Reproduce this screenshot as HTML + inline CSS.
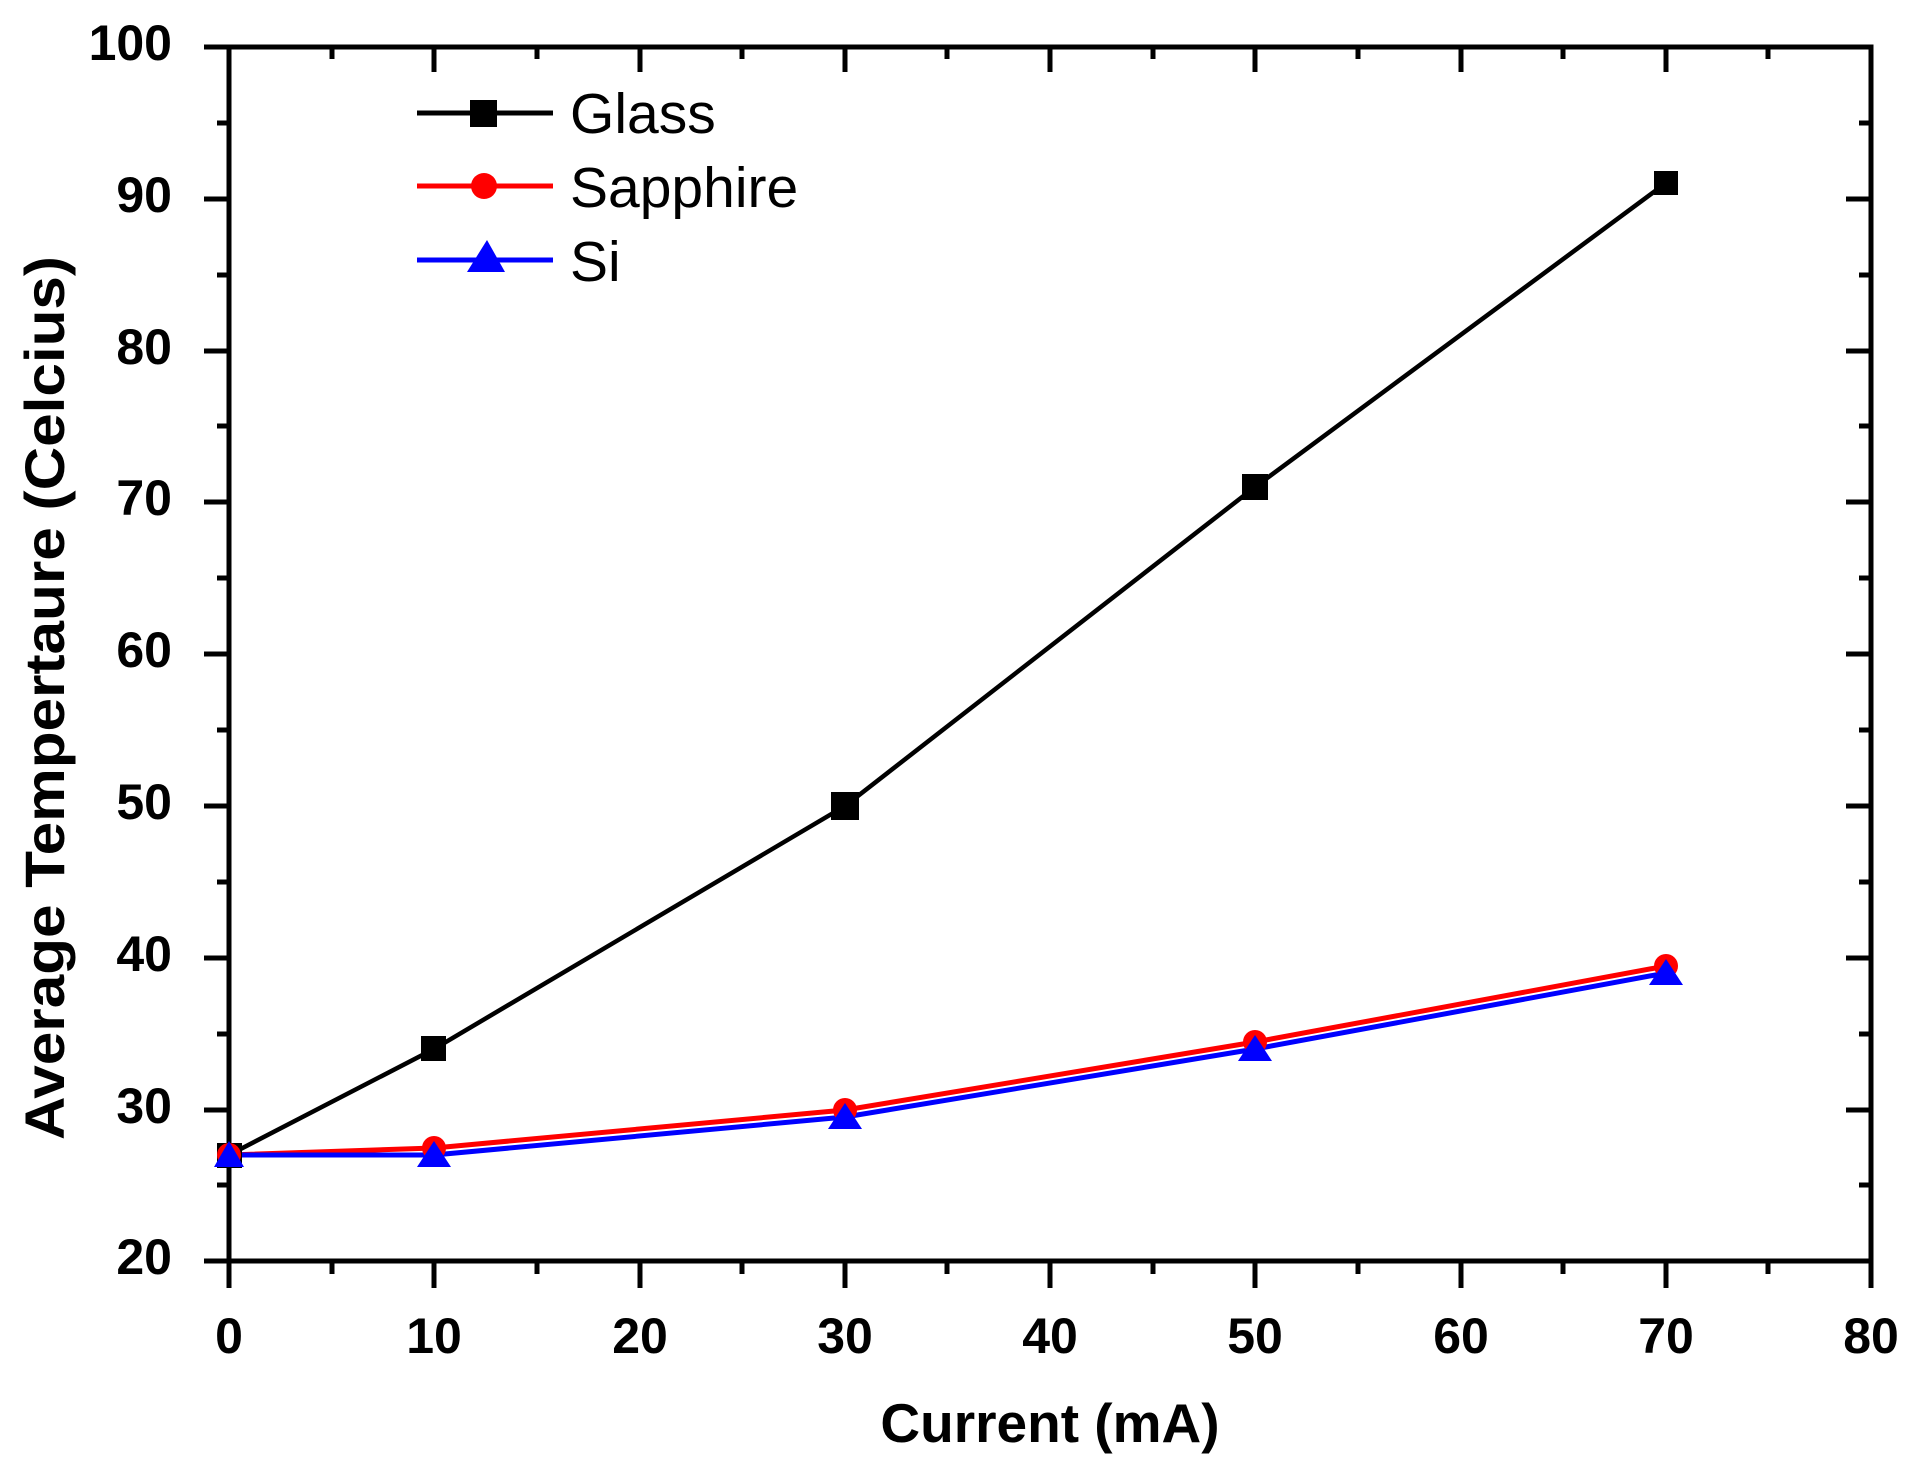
<!DOCTYPE html>
<html><head><meta charset="utf-8"><style>html,body{margin:0;padding:0;background:#fff}svg{display:block}</style></head><body>
<svg width="1905" height="1471" viewBox="0 0 1905 1471" xmlns="http://www.w3.org/2000/svg">
<g font-family="Liberation Sans, Arial, sans-serif" font-weight="bold" font-size="50" fill="#000">
<text x="229" y="1353" text-anchor="middle">0</text>
<text x="434" y="1353" text-anchor="middle">10</text>
<text x="640" y="1353" text-anchor="middle">20</text>
<text x="845" y="1353" text-anchor="middle">30</text>
<text x="1050" y="1353" text-anchor="middle">40</text>
<text x="1255" y="1353" text-anchor="middle">50</text>
<text x="1461" y="1353" text-anchor="middle">60</text>
<text x="1666" y="1353" text-anchor="middle">70</text>
<text x="1871" y="1353" text-anchor="middle">80</text>
<text x="172" y="60" text-anchor="end">100</text>
<text x="172" y="212" text-anchor="end">90</text>
<text x="172" y="364" text-anchor="end">80</text>
<text x="172" y="515" text-anchor="end">70</text>
<text x="172" y="667" text-anchor="end">60</text>
<text x="172" y="819" text-anchor="end">50</text>
<text x="172" y="971" text-anchor="end">40</text>
<text x="172" y="1123" text-anchor="end">30</text>
<text x="172" y="1274" text-anchor="end">20</text>
<text x="1050" y="1442" text-anchor="middle" font-size="55">Current (mA)</text>
<text transform="translate(64,698) rotate(-90)" text-anchor="middle" font-size="56" textLength="884" lengthAdjust="spacingAndGlyphs">Average Tempertaure (Celcius)</text>
</g>
<g stroke="#000" stroke-width="5" fill="none">
<rect x="229" y="47" width="1642" height="1214"/>
<path d="M229,1261v27M434,1261v27M640,1261v27M845,1261v27M1050,1261v27M1255,1261v27M1461,1261v27M1666,1261v27M1871,1261v27
M332,1261v13M537,1261v13M742,1261v13M947,1261v13M1153,1261v13M1358,1261v13M1563,1261v13M1768,1261v13
M434,47v25M640,47v25M845,47v25M1050,47v25M1255,47v25M1461,47v25M1666,47v25
M332,47v12M537,47v12M742,47v12M947,47v12M1153,47v12M1358,47v12M1563,47v12M1768,47v12"/>
<path d="M204,47h25M204,199h25M204,351h25M204,502h25M204,654h25M204,806h25M204,958h25M204,1110h25M204,1261h25
M217,123h12M217,275h12M217,426h12M217,578h12M217,730h12M217,882h12M217,1034h12M217,1185h12"/>
<path d="M1846,199h25M1846,351h25M1846,502h25M1846,654h25M1846,806h25M1846,958h25M1846,1110h25
M1859,123h12M1859,275h12M1859,426h12M1859,578h12M1859,730h12M1859,882h12M1859,1034h12M1859,1185h12"/>
</g>
<polyline points="229,1155 434,1049 845,806 1255,487 1666,183" fill="none" stroke="#000" stroke-width="4.5"/>
<polyline points="229,1155 434,1148 845,1110 1255,1042 1666,966" fill="none" stroke="#f00" stroke-width="5"/>
<polyline points="229,1155 434,1155 845,1117 1255,1049 1666,973" fill="none" stroke="#00f" stroke-width="5"/>
<g fill="#000">
<rect x="217" y="1143" width="25" height="25"/><rect x="421" y="1036" width="25" height="25"/><rect x="831" y="792" width="28" height="28"/><rect x="1242" y="474" width="26" height="26"/><rect x="1654" y="171" width="24" height="24"/>
</g>
<g fill="#f00">
<circle cx="229" cy="1155" r="12"/><circle cx="434" cy="1148" r="12"/><circle cx="845" cy="1110" r="12"/><circle cx="1255" cy="1042" r="12"/><circle cx="1666" cy="966" r="12"/>
</g>
<g fill="#00f">
<polygon points="229,1141 244,1167 214,1167"/><polygon points="434,1141 451,1167 417,1167"/><polygon points="845,1103 862,1129 828,1129"/><polygon points="1255,1035 1272,1061 1238,1061"/><polygon points="1666,959 1683,985 1649,985"/>
</g>
<line x1="417" y1="113" x2="553" y2="113" stroke="#000" stroke-width="5"/>
<rect x="470" y="100" width="27" height="27" fill="#000"/>
<line x1="417" y1="186" x2="553" y2="186" stroke="#f00" stroke-width="5"/>
<circle cx="484" cy="186" r="13" fill="#f00"/>
<line x1="417" y1="260" x2="553" y2="260" stroke="#00f" stroke-width="5"/>
<polygon points="487,240 505,272 467,272" fill="#00f"/>
<g font-family="Liberation Sans, Arial, sans-serif" font-size="57" fill="#000">
<text x="570" y="133">Glass</text>
<text x="570" y="207">Sapphire</text>
<text x="570" y="281">Si</text>
</g>
</svg>
</body></html>
